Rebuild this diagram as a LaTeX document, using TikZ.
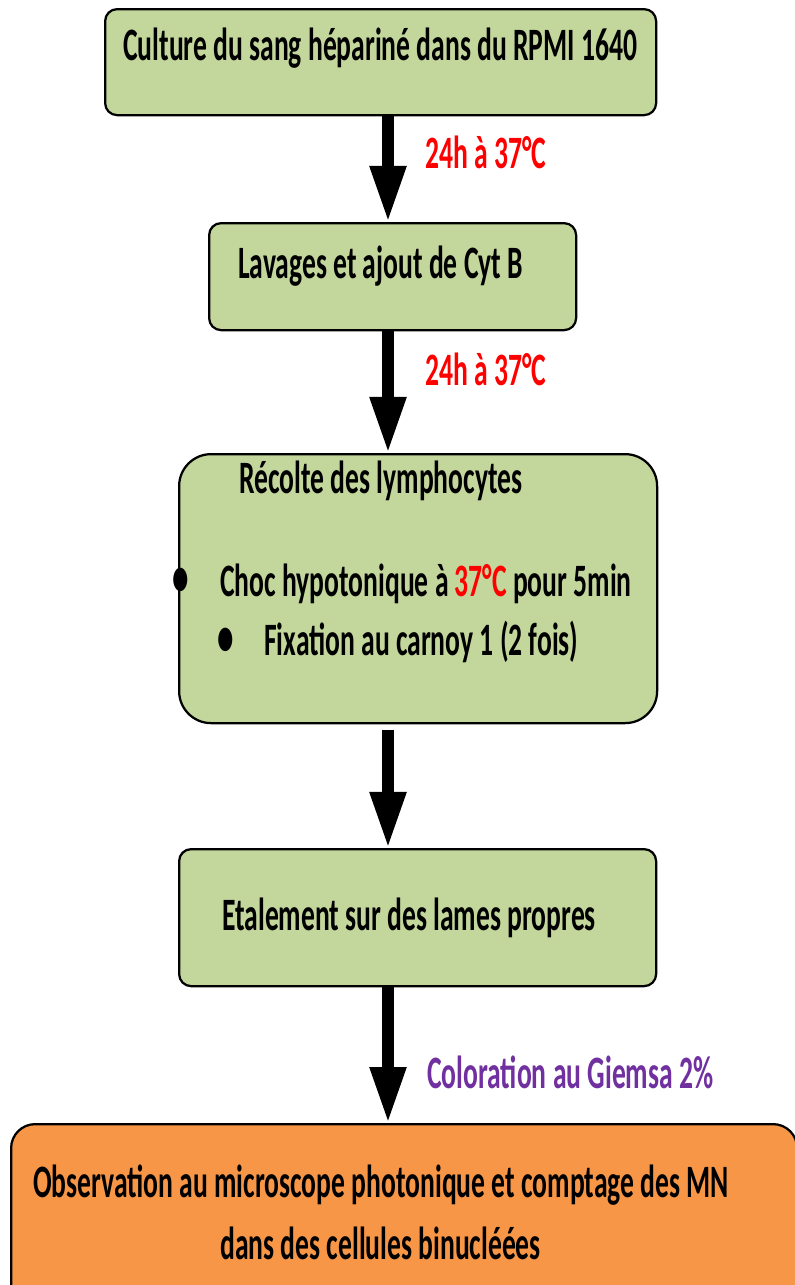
\documentclass[tikz,border=0pt]{standalone}
\usepackage{fontspec}
\newfontfamily\cf{Carlito}[FakeStretch=0.595]
\usetikzlibrary{arrows.meta}
\definecolor{boxgreen}{RGB}{195,214,155}
\definecolor{boxorange}{RGB}{247,150,70}
\definecolor{lblred}{RGB}{255,0,0}
\definecolor{lblpurple}{RGB}{112,48,160}
\tikzset{
  greenbox/.style={draw=black, line width=1.6pt, fill=boxgreen, rounded corners=0.3cm, anchor=north west, inner sep=0pt},
  orangebox/.style={draw=black, line width=1.6pt, fill=boxorange, rounded corners=0.6cm, anchor=north west, inner sep=0pt},
  txt/.style={anchor=base west, inner sep=0pt, font=\cf\bfseries\fontsize{33}{38}\selectfont},
  redlbl/.style={txt, text=lblred},
  purplelbl/.style={txt, text=lblpurple},
  bigarrow/.style={line width=0.28cm, -{Triangle[length=1.4cm,width=0.85cm]}},
}
\begin{document}
\begin{tikzpicture}[x=0.025cm, y=-0.025cm]
\useasboundingbox (0,0) rectangle (795,1285);
% boxes
\node[greenbox, minimum width=551*0.025cm, minimum height=106*0.025cm] (b1) at (104,8) {};
\node[greenbox, minimum width=367*0.025cm, minimum height=107*0.025cm] (b2) at (208,222) {};
\node[greenbox, rounded corners=0.8cm, minimum width=478*0.025cm, minimum height=269*0.025cm] (b3) at (178,453) {};
\node[greenbox, minimum width=477*0.025cm, minimum height=137*0.025cm] (b4) at (178,848) {};
\node[orangebox, minimum width=786*0.025cm, minimum height=200*0.025cm] (b5) at (10,1123) {};
% texts
\node[txt] (t1) at (123,60) {Culture du sang hépariné dans du RPMI 1640};
\node[txt] (t2) at (238,278) {Lavages et ajout de Cyt B};
\node[txt] (t3a) at (239,493) {Récolte des lymphocytes};
\node[txt, anchor=center, scale=1.2] (bul1) at (181,582) {•};
\node[txt] (t3b) at (220,596) {Choc hypotonique à \textcolor{lblred}{37°C} pour 5min};
\node[txt, anchor=center, scale=1.2] (bul2) at (226,642) {•};
\node[txt] (t3c) at (264,655) {Fixation au carnoy 1 (2 fois)};
\node[txt] (t4) at (222,930) {Etalement sur des lames propres};
\node[txt] (t5a) at (33,1197) {Observation au microscope photonique et comptage des MN};
\node[txt] (t5b) at (220,1259) {dans des cellules binucléées};
% labels
\node[redlbl] (l1) at (425,168) {24h à 37°C};
\node[redlbl] (l2) at (425,385) {24h à 37°C};
\node[purplelbl] (l4) at (427,1088) {Coloration au Giemsa 2\%};
% arrows
\coordinate (ax) at (388,0);
\coordinate (s3) at (388,730);
\draw[bigarrow] (b1.south -| ax) -- (b2.north -| ax);
\draw[bigarrow] (b2.south -| ax) -- (b3.north -| ax);
\draw[bigarrow] (s3) -- (b4.north -| ax);
\draw[bigarrow] (b4.south -| ax) -- (b5.north -| ax);
\end{tikzpicture}
\end{document}
